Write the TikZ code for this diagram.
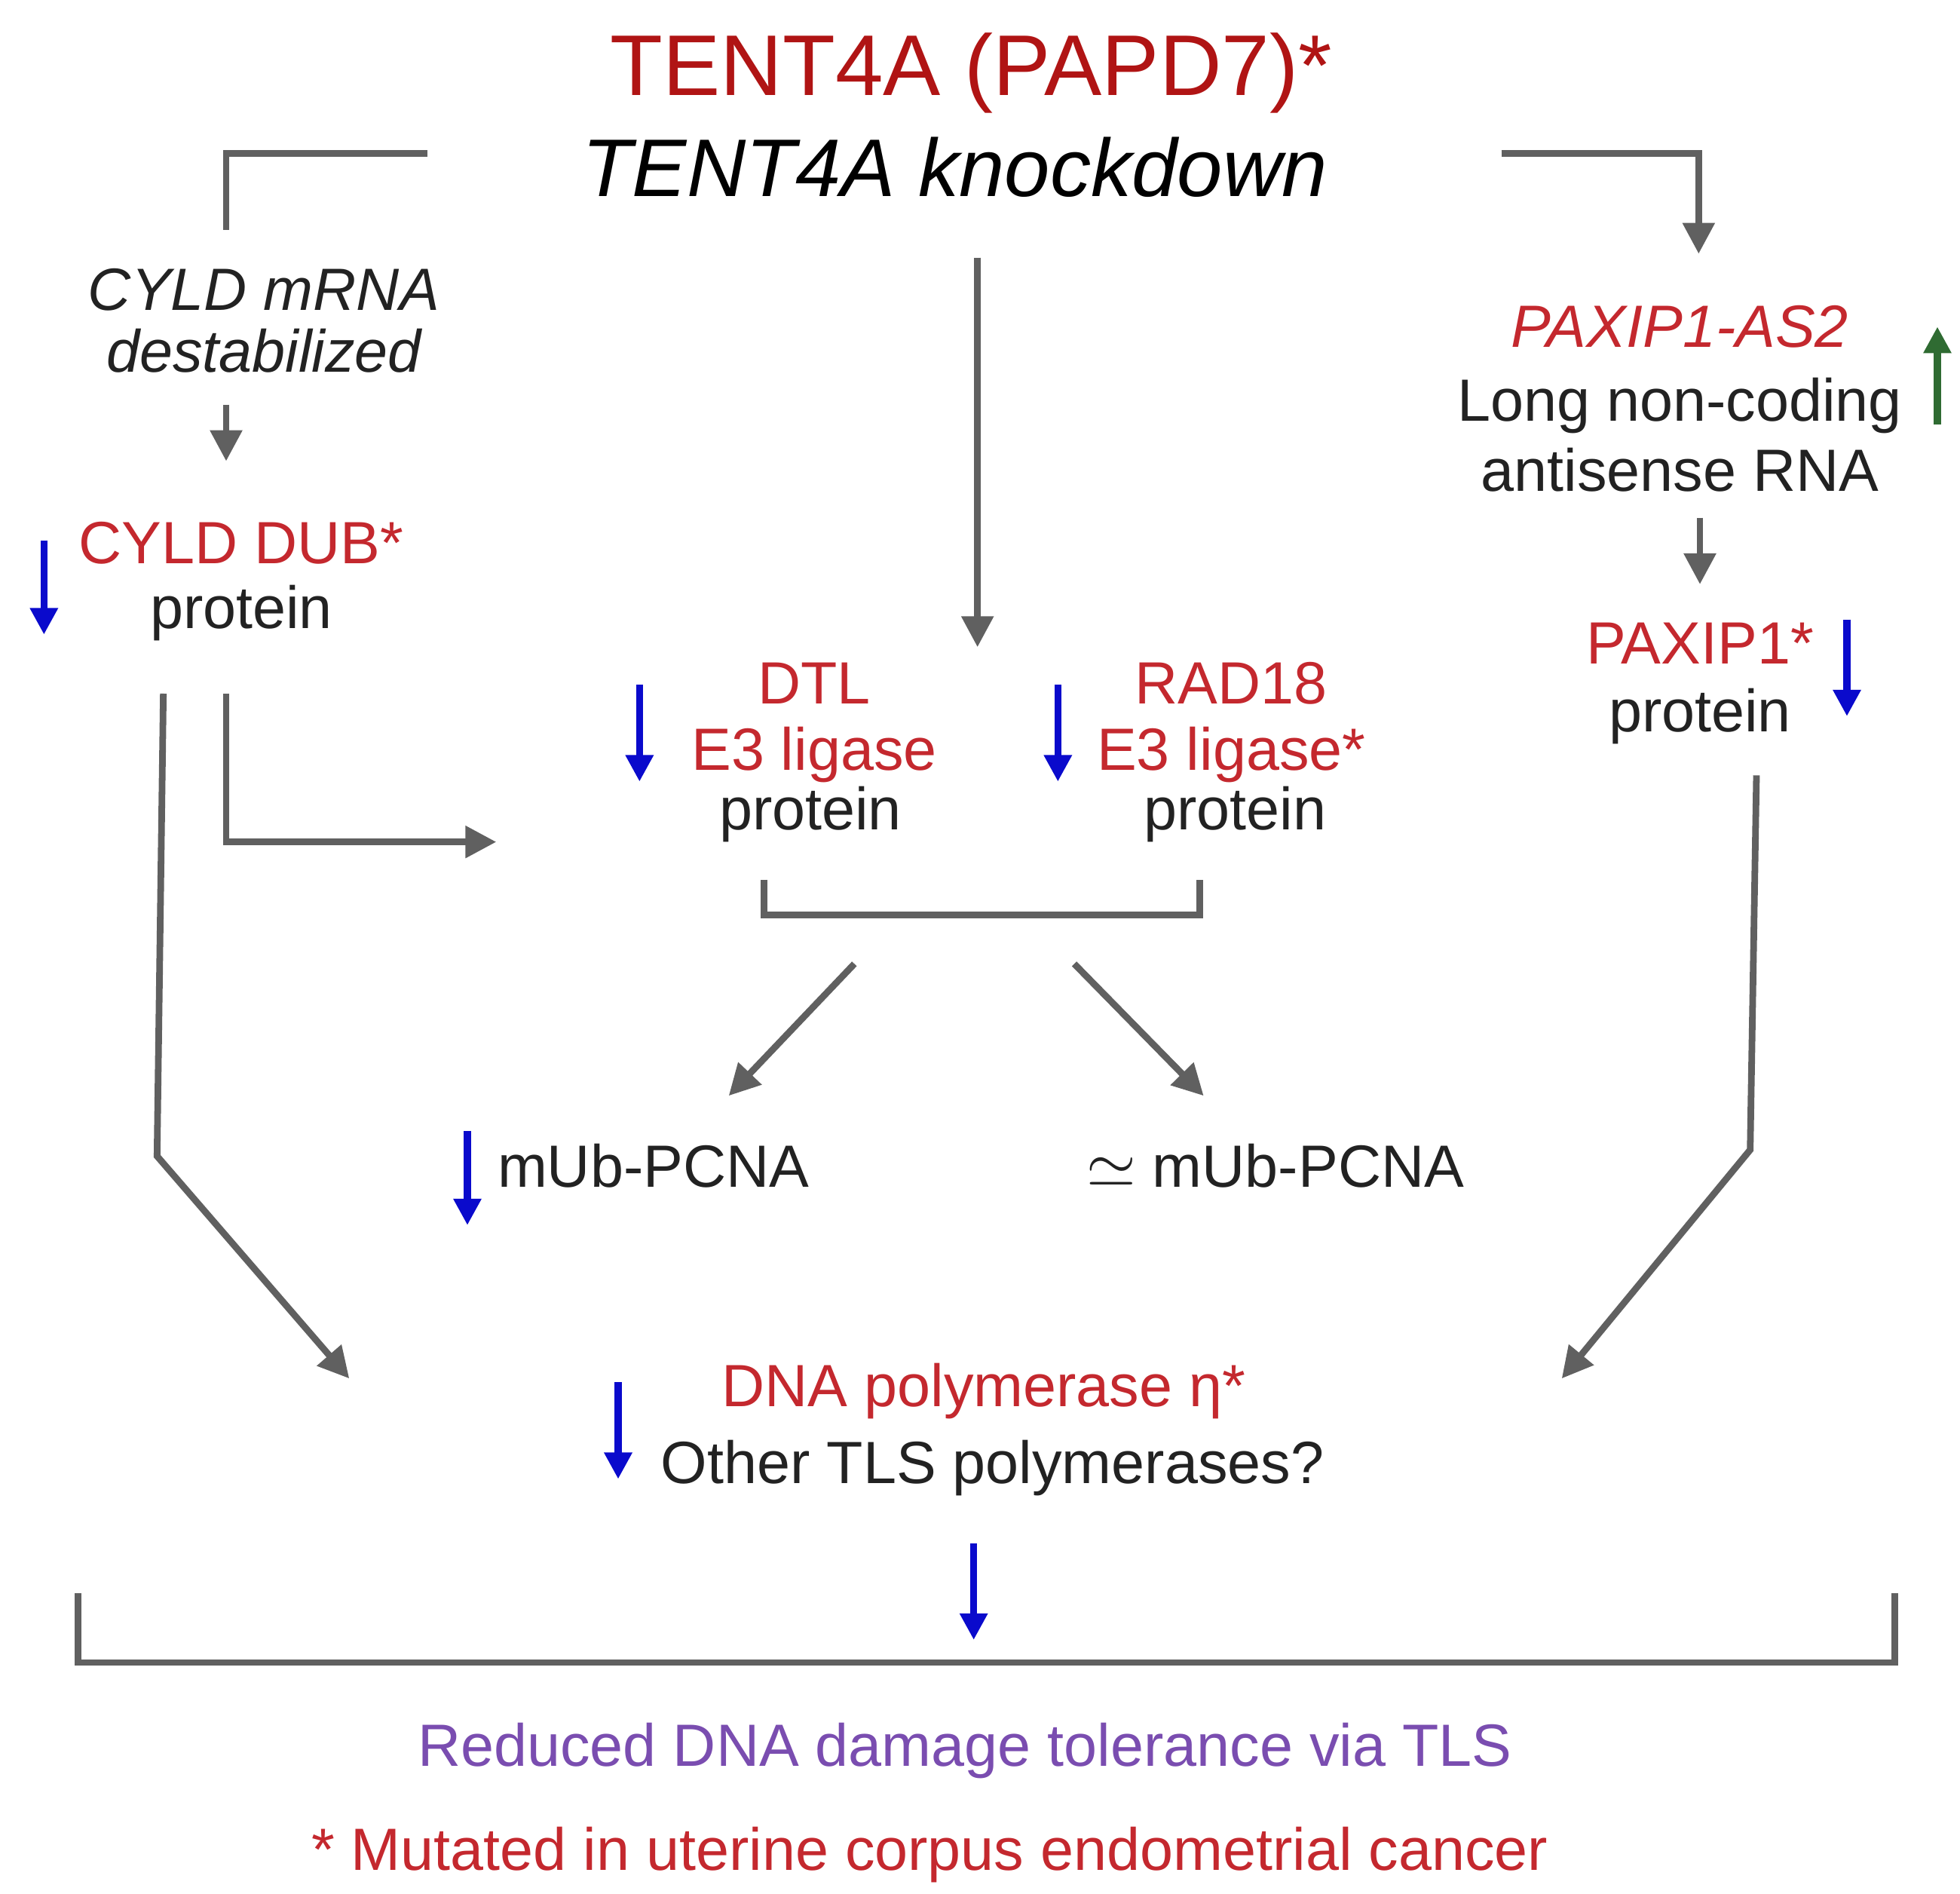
\documentclass[tikz,border=0pt]{standalone}
\usepackage{fontspec}
\setmainfont{Liberation Sans}
\usetikzlibrary{arrows.meta}
\definecolor{linegray}{HTML}{606060}
\definecolor{labred}{HTML}{C4282E}
\definecolor{titlered}{HTML}{B01414}
\definecolor{downblue}{HTML}{0A0ACC}
\definecolor{upgreen}{HTML}{2F6B32}
\definecolor{tlspurple}{HTML}{7A4DB0}
\definecolor{txtgray}{HTML}{222222}
\tikzset{
  lbl/.style = {align=center, inner sep=0pt, text=txtgray, font=\fontsize{13.5}{16}\selectfont},
  redlbl/.style = {lbl, text=labred},
  flow/.style = {draw=linegray, line width=1.5pt, -{Triangle[length=7pt,width=7pt]}},
  plain/.style = {draw=linegray, line width=1.5pt},
  blue_dn/.style = {draw=downblue, line width=1.6pt, -{Triangle[length=6pt,width=6pt]}},
  green_up/.style = {draw=upgreen, line width=1.6pt, -{Triangle[length=6pt,width=6pt]}}}

\begin{document}
\begin{tikzpicture}[x=0.01cm,y=-0.01cm]
\useasboundingbox (0,0) rectangle (1560,1507);

% top
\node [lbl, text=titlered, font=\fontsize{19.5}{24}\selectfont] (tent) at (773,58) {TENT4A (PAPD7)*};
\node [lbl, text=black, font=\fontsize{18.5}{23}\selectfont\itshape] (kd) at (760,133) {TENT4A knockdown};

% left branch
\node [lbl, font=\fontsize{13.5}{14}\itshape] (mrna) at (210,255) {CYLD mRNA\\destabilized};
\node [redlbl] (cyld) at (192,432) {CYLD DUB*};
\node [lbl] (cyldp) at (192,488) {protein};

% right branch
\node [redlbl, font=\fontsize{13.5}{16}\itshape] (as2) at (1337,260) {PAXIP1-AS2};
\node [lbl] (lnc) at (1337,346) {Long non-coding\\antisense RNA};
\node [redlbl] (pax) at (1353,512) {PAXIP1*};
\node [lbl] (paxp) at (1353,570) {protein};

% ligases
\node [redlbl] (dtl) at (648,575) {DTL\\[-1pt]E3 ligase};
\node [lbl] (dtlp) at (645,648) {protein};
\node [redlbl] (rad) at (980,575) {RAD18\\[-1pt]E3 ligase*};
\node [lbl] (radp) at (983,648) {protein};

% PCNA
\node [lbl] (pcnaA) at (520,928) {mUb-PCNA};
\node [lbl] (pcnaB) at (1015,928) {$\simeq$ mUb-PCNA};

% polymerases
\node [redlbl] (pol) at (783,1107) {DNA polymerase η*};
\node [lbl] (tls) at (790,1168) {Other TLS polymerases?};

% bottom
\node [lbl, text=tlspurple] (out) at (768,1393) {Reduced DNA damage tolerance via TLS};
\node [redlbl] (note) at (740,1476) {* Mutated in uterine corpus endometrial cancer};

% corners
\coordinate (l0) at (340,122); \coordinate (l1) at (180,122); \coordinate (l2) at (180,183);
\coordinate (r0) at (1195,122); \coordinate (r1) at (1352,122); \coordinate (r2) at (1352,202);
\coordinate (c0) at (778,205); \coordinate (c1) at (778,515);
\coordinate (m0) at (180,322); \coordinate (m1) at (180,367);
\coordinate (a0) at (1353,412); \coordinate (a1) at (1353,465);
\coordinate (k0) at (180,552); \coordinate (k1) at (180,670); \coordinate (k2) at (395,670);
\coordinate (b0) at (608,700); \coordinate (b1) at (608,728); \coordinate (b2) at (955,728); \coordinate (b3) at (955,700);
\coordinate (s0) at (680,767); \coordinate (s1) at (580,872);
\coordinate (t0) at (855,767); \coordinate (t1) at (958,872);
\coordinate (p0) at (130,552); \coordinate (p1) at (125,920); \coordinate (p2) at (278,1097);
\coordinate (q0) at (1398,617); \coordinate (q1) at (1393,915); \coordinate (q2) at (1243,1097);
\coordinate (z0) at (62,1268); \coordinate (z1) at (62,1323); \coordinate (z2) at (1508,1323); \coordinate (z3) at (1508,1268);

\draw [plain] (l0) -- (l1) -- (l2);
\draw [flow] (r0) -- (r1) -- (r2);
\draw [flow] (c0) -- (c1);
\draw [flow] (m0) -- (m1);
\draw [flow] (a0) -- (a1);
\draw [flow] (k0) -- (k1) -- (k2);
\draw [plain] (b0) -- (b1) -- (b2) -- (b3);
\draw [flow] (s0) -- (s1);
\draw [flow] (t0) -- (t1);
\draw [flow] (p0) -- (p1) -- (p2);
\draw [flow] (q0) -- (q1) -- (q2);
\draw [plain] (z0) -- (z1) -- (z2) -- (z3);

% up/down markers
\draw [blue_dn] (35,430) -- (35,505);
\draw [blue_dn] (509,545) -- (509,622);
\draw [blue_dn] (842,545) -- (842,622);
\draw [blue_dn] (1470,493) -- (1470,570);
\draw [blue_dn] (372,900) -- (372,975);
\draw [blue_dn] (492,1100) -- (492,1177);
\draw [blue_dn] (775,1228) -- (775,1305);
\draw [green_up] (1542,338) -- (1542,260);
\end{tikzpicture}
\end{document}
